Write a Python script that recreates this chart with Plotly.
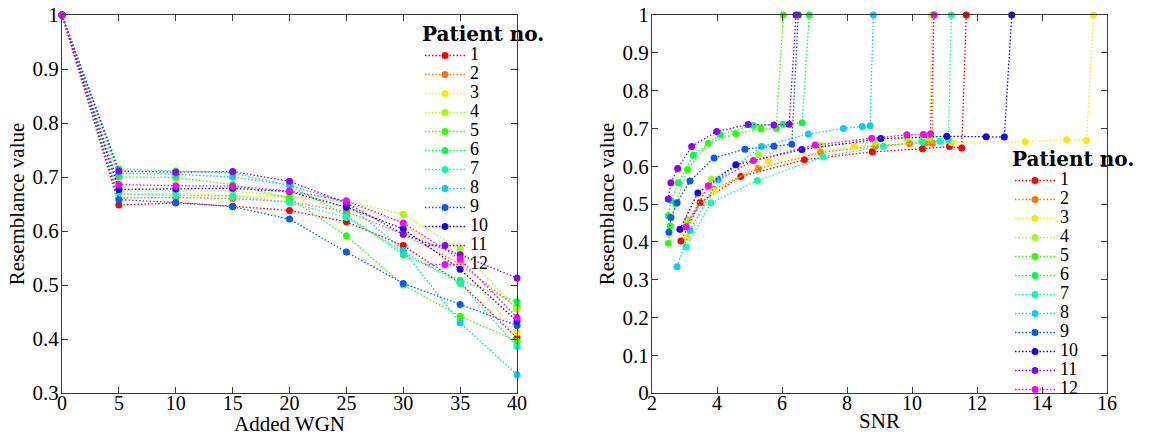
import colorsys
import plotly.graph_objects as go

# ---------------- data ----------------
wgn = [0, 5, 10, 15, 20, 25, 30, 35, 40]
patients = ["1", "2", "3", "4", "5", "6", "7", "8", "9", "10", "11", "12"]

# resemblance value per patient, in order of added WGN (0..40)
res_p1 = [1, 0.648, 0.652, 0.646, 0.638, 0.617, 0.573, 0.504, 0.402]
res_p2 = [1, 0.661, 0.662, 0.660, 0.654, 0.636, 0.594, 0.539, 0.458]
res_p3 = [1, 0.668, 0.670, 0.665, 0.663, 0.653, 0.613, 0.535, 0.412]
res_p4 = [1, 0.674, 0.674, 0.674, 0.664, 0.655, 0.631, 0.566, 0.455]
res_p5 = [1, 0.700, 0.699, 0.686, 0.661, 0.591, 0.500, 0.442, 0.396]
res_p6 = [1, 0.715, 0.711, 0.708, 0.684, 0.629, 0.556, 0.509, 0.469]
res_p7 = [1, 0.669, 0.666, 0.665, 0.653, 0.625, 0.562, 0.503, 0.386]
res_p8 = [1, 0.707, 0.705, 0.700, 0.685, 0.652, 0.564, 0.430, 0.334]
res_p9 = [1, 0.658, 0.653, 0.645, 0.622, 0.561, 0.503, 0.464, 0.425]
res_p10 = [1, 0.677, 0.678, 0.679, 0.673, 0.644, 0.604, 0.529, 0.433]
res_p11 = [1, 0.711, 0.709, 0.710, 0.692, 0.652, 0.594, 0.556, 0.513]
res_p12 = [1, 0.686, 0.684, 0.683, 0.674, 0.656, 0.615, 0.548, 0.440]

# SNR per patient, same order (WGN 0..40)
snr_p1 = [11.67, 11.53, 11.15, 10.32, 8.78, 6.69, 4.73, 3.48, 2.89]
snr_p2 = [10.66, 10.63, 10.43, 9.92, 8.88, 7.19, 5.27, 3.90, 3.10]
snr_p3 = [15.58, 15.37, 14.76, 13.48, 11.22, 8.22, 5.58, 3.91, 3.09]
snr_p4 = [10.60, 10.55, 10.35, 9.84, 8.86, 7.19, 5.27, 3.82, 3.10]
snr_p5 = [6.04, 5.82, 5.35, 4.58, 3.73, 3.09, 2.73, 2.56, 2.50]
snr_p6 = [6.84, 6.62, 6.04, 5.12, 4.09, 3.27, 2.81, 2.58, 2.50]
snr_p7 = [11.21, 11.12, 10.86, 10.30, 9.12, 7.27, 5.24, 3.81, 3.05]
snr_p8 = [8.81, 8.71, 8.47, 7.89, 6.81, 5.37, 4.04, 3.17, 2.77]
snr_p9 = [6.50, 6.30, 5.75, 4.86, 3.91, 3.17, 2.77, 2.58, 2.52]
snr_p10 = [13.07, 12.84, 12.28, 11.07, 9.04, 6.61, 4.58, 3.41, 2.86]
snr_p11 = [6.43, 6.22, 5.75, 4.96, 3.99, 3.22, 2.79, 2.58, 2.50]
snr_p12 = [10.68, 10.57, 10.35, 9.84, 8.76, 7.02, 5.12, 3.73, 3.05]

res = [res_p1, res_p2, res_p3, res_p4, res_p5, res_p6,
       res_p7, res_p8, res_p9, res_p10, res_p11, res_p12]
snr = [snr_p1, snr_p2, snr_p3, snr_p4, snr_p5, snr_p6,
       snr_p7, snr_p8, snr_p9, snr_p10, snr_p11, snr_p12]

left_x_ticks = [0, 5, 10, 15, 20, 25, 30, 35, 40]
left_y_ticks = [0.3, 0.4, 0.5, 0.6, 0.7, 0.8, 0.9, 1]
right_x_ticks = [2, 4, 6, 8, 10, 12, 14, 16]
right_y_ticks = [0, 0.1, 0.2, 0.3, 0.4, 0.5, 0.6, 0.7, 0.8, 0.9, 1]

# ---------------- style ----------------
FONT = "Liberation Serif"
n = len(patients)
colors = []
for i in range(n):
    r, g, b = colorsys.hsv_to_rgb((i * 300 / (n - 1)) / 360.0, 1, 1)
    colors.append(f"rgb({int(r*255)},{int(g*255)},{int(b*255)})")


def label(t):
    return f'<span style="font-size:18px">{t}</span>'


fig = go.Figure()
for i in range(n):
    fig.add_trace(go.Scatter(
        x=wgn, y=res[i], mode="lines+markers", name=label(patients[i]),
        line=dict(color=colors[i], width=1.3, dash="1.5px,2px"),
        marker=dict(color=colors[i], size=7),
        xaxis="x", yaxis="y", legend="legend", cliponaxis=False,
    ))
for i in range(n):
    fig.add_trace(go.Scatter(
        x=snr[i], y=res[i], mode="lines+markers", name=label(patients[i]),
        line=dict(color=colors[i], width=1.3, dash="1.5px,2px"),
        marker=dict(color=colors[i], size=7),
        xaxis="x2", yaxis="y2", legend="legend2", cliponaxis=False,
    ))

axis_common = dict(
    showline=True, linecolor="#3a3a3a", linewidth=1, mirror="ticks",
    ticks="inside", ticklen=6, tickwidth=1, tickcolor="#3a3a3a",
    showgrid=False, zeroline=False, automargin=False,
)
tick_font = dict(family=FONT, size=20, color="black")
title_font = dict(family=FONT, size=21, color="black")

W, H = 1149, 436
ml, mr, mt, mb = 62, 42, 15, 43
pw = W - ml - mr
ph = H - mt - mb


def px_x(p):
    return (p - ml) / pw


def px_y(p):
    return (H - mb - p) / ph


legend_common = dict(
    bgcolor="rgba(0,0,0,0)", borderwidth=0,
    font=dict(family=FONT, size=12, color="black"),
    itemwidth=40, tracegroupgap=0, maxheight=1,
    xanchor="left", yanchor="top",
    title=dict(text="<b>Patient no.</b>", side="top",
               font=dict(family="DejaVu Serif", size=20, color="black")),
)

fig.update_layout(
    width=W, height=H,
    margin=dict(l=ml, r=mr, t=mt, b=mb, autoexpand=False),
    paper_bgcolor="white", plot_bgcolor="white",
    xaxis=dict(domain=[0, px_x(517)], range=[0, 40], tickvals=left_x_ticks,
               ticklabelstandoff=-8, tickfont=tick_font,
               title=dict(text="Added WGN", font=title_font, standoff=0),
               **axis_common),
    yaxis=dict(domain=[0, 1], range=[0.3, 1], tickvals=left_y_ticks,
               ticklabelstandoff=-2, tickfont=dict(tick_font, size=21),
               title=dict(text="Resemblance value", font=title_font, standoff=2),
               **axis_common),
    xaxis2=dict(domain=[px_x(652), 1], range=[2, 16], tickvals=right_x_ticks,
                anchor="y2", ticklabelstandoff=-8, tickfont=tick_font,
                title=dict(text="SNR", font=title_font, standoff=0),
                **axis_common),
    yaxis2=dict(domain=[0, 1], range=[0, 1], tickvals=right_y_ticks,
                anchor="x2", ticklabelstandoff=-2, tickfont=dict(tick_font, size=21),
                title=dict(text="Resemblance value", font=title_font, standoff=2),
                **axis_common),
    legend=dict(x=px_x(420), y=1.0, **legend_common),
    legend2=dict(x=px_x(1010), y=px_y(140), **legend_common),
    showlegend=True,
)

fig.write_html("out.html")
